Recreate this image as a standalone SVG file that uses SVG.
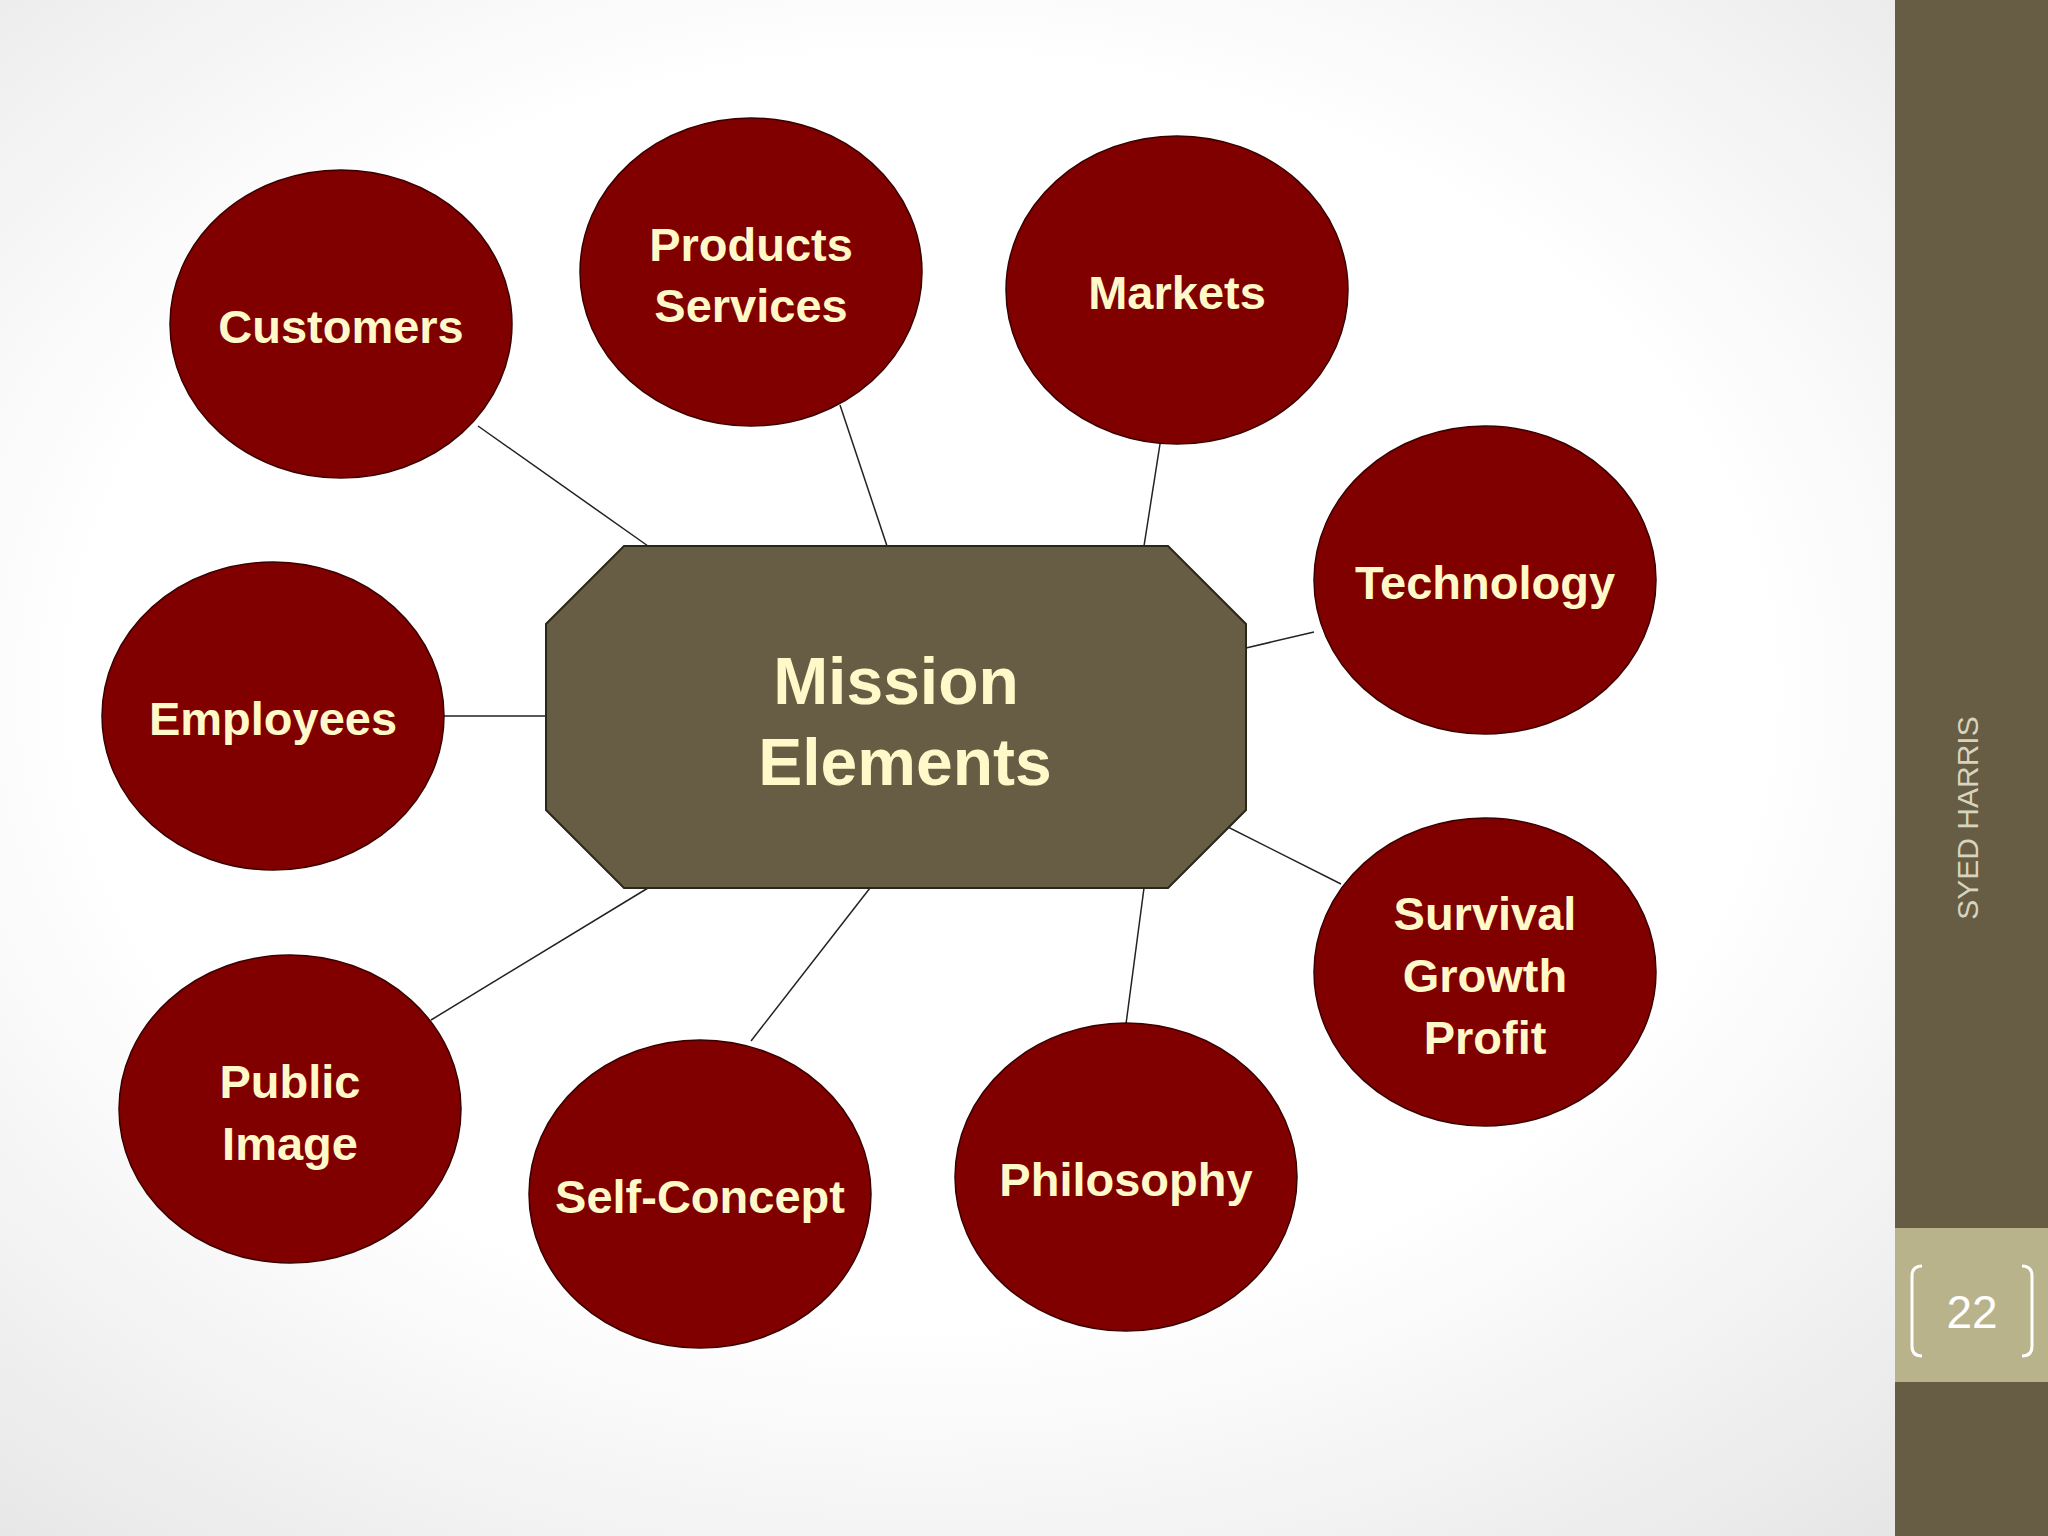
<svg xmlns="http://www.w3.org/2000/svg" width="2048" height="1536" viewBox="0 0 2048 1536">
<defs>
<radialGradient id="bg" cx="0.45" cy="0.45" r="0.75">
<stop offset="0.55" stop-color="#ffffff"/><stop offset="1" stop-color="#e4e4e4"/>
</radialGradient>
<style>
.n{fill:#800000;stroke:#3a0000;stroke-width:1.5}
.t{font-family:"Liberation Sans",Arial,sans-serif;font-weight:bold;font-size:47px;fill:#fff8c8;text-anchor:middle}
.c line{stroke:#222;stroke-width:1.5}
</style>
</defs>
<rect width="2048" height="1536" fill="url(#bg)"/>
<rect x="1895" y="0" width="153" height="1536" fill="#675d45"/>
<rect x="1895" y="1228" width="153" height="154" fill="#b9b38b"/>
<path d="M1922 1266 q-10 0 -10 10 v70 q0 10 10 10 M2022 1266 q10 0 10 10 v70 q0 10 -10 10" fill="none" stroke="#fff" stroke-width="3"/>
<text x="1972" y="1328" font-family="Liberation Sans,Arial,sans-serif" font-size="46" fill="#fff" text-anchor="middle">22</text>
<text transform="translate(1978,818) rotate(-90)" font-family="Liberation Sans,Arial,sans-serif" font-size="30" fill="#d8d3bd" text-anchor="middle">SYED HARRIS</text>
<g class="c" id="connectors">
<line x1="478" y1="426" x2="648" y2="546"/><line x1="840" y1="405" x2="887" y2="546"/>
<line x1="1160" y1="444" x2="1144" y2="546"/><line x1="1246" y1="648" x2="1314" y2="632"/>
<line x1="444" y1="716" x2="546" y2="716"/><line x1="1212" y1="819" x2="1341" y2="884"/>
<line x1="648" y1="888" x2="431" y2="1020"/><line x1="870" y1="888" x2="751" y2="1041"/>
<line x1="1144" y1="888" x2="1126" y2="1024"/>
</g>
<g id="center">
<polygon points="624,546 1168,546 1246,624 1246,810 1168,888 624,888 546,810 546,624" fill="#675d45" stroke="#2a2618" stroke-width="2"/>
<text class="t" style="font-size:66px" x="896" y="704">Mission</text>
<text class="t" style="font-size:66px" x="905" y="785">Elements</text>
</g>
<g id="customers"><ellipse class="n" cx="341" cy="324" rx="171" ry="154"/><text class="t" x="341" y="343">Customers</text></g>
<g id="products"><ellipse class="n" cx="751" cy="272" rx="171" ry="154"/><text class="t" x="751" y="261">Products</text><text class="t" x="751" y="322">Services</text></g>
<g id="markets"><ellipse class="n" cx="1177" cy="290" rx="171" ry="154"/><text class="t" x="1177" y="309">Markets</text></g>
<g id="technology"><ellipse class="n" cx="1485" cy="580" rx="171" ry="154"/><text class="t" x="1485" y="599">Technology</text></g>
<g id="employees"><ellipse class="n" cx="273" cy="716" rx="171" ry="154"/><text class="t" x="273" y="735">Employees</text></g>
<g id="survival"><ellipse class="n" cx="1485" cy="972" rx="171" ry="154"/><text class="t" x="1485" y="930">Survival</text><text class="t" x="1485" y="992">Growth</text><text class="t" x="1485" y="1054">Profit</text></g>
<g id="public"><ellipse class="n" cx="290" cy="1109" rx="171" ry="154"/><text class="t" x="290" y="1098">Public</text><text class="t" x="290" y="1160">Image</text></g>
<g id="selfconcept"><ellipse class="n" cx="700" cy="1194" rx="171" ry="154"/><text class="t" x="700" y="1213">Self-Concept</text></g>
<g id="philosophy"><ellipse class="n" cx="1126" cy="1177" rx="171" ry="154"/><text class="t" x="1126" y="1196">Philosophy</text></g>
</svg>
